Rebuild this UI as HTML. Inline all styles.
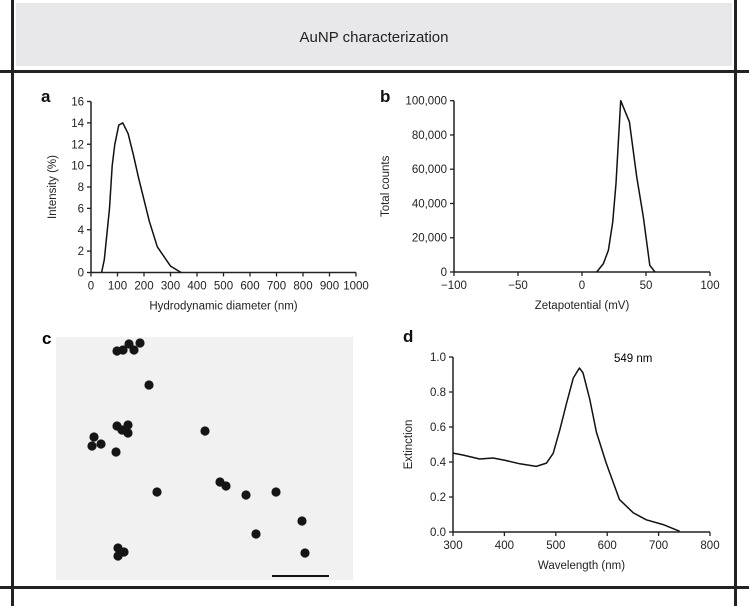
<!DOCTYPE html>
<html><head><meta charset="utf-8"><style>
html,body{margin:0;padding:0;background:#fff;}
svg{display:block;font-family:"Liberation Sans",Arial,sans-serif;}
</style></head><body>
<svg id="fig" width="749" height="606" viewBox="0 0 749 606" xmlns="http://www.w3.org/2000/svg">
<rect x="16" y="3" width="716" height="63" fill="#e8e8ea"/>
<text x="374" y="42" font-size="15" text-anchor="middle" fill="#222">AuNP characterization</text>
<rect x="11" y="0" width="3" height="606" fill="#222"/>
<rect x="734" y="0" width="3" height="606" fill="#222"/>
<rect x="0" y="70" width="749" height="3" fill="#222"/>
<rect x="0" y="586" width="749" height="3" fill="#222"/>
<g id="pa"></g>
<g id="pb"></g>
<g id="pc">
<text x="42" y="344" font-size="17" font-weight="bold">c</text>
<rect x="56" y="337" width="297" height="243" fill="#f1f1f1"/>
<rect x="272" y="575" width="57" height="2" fill="#111"/>
</g>
<g id="pd">
<text x="614" y="362" font-size="11.5">549 nm</text>
</g>
</svg>
<script>
// Panel a data
const aX=[40,50,70,80,90,105,120,140,160,180,200,220,250,300,340];
const aY=[0,1.2,6,10,12,13.8,14,13,11,8.8,6.8,4.8,2.4,0.6,0];
const aXTicks=[0,100,200,300,400,500,600,700,800,900,1000];
const aYTicks=[0,2,4,6,8,10,12,14,16];
// Panel b data
const bX=[11.5,16.7,20.6,24,26.6,30.2,37,42.7,47.9,53,57];
const bY=[0,4900,12700,29000,51700,100000,87700,55600,32200,3900,0];
const bXTicks=[-100,-50,0,50,100];
const bYTicks=[0,20000,40000,60000,80000,100000];
// Panel d data
const dX=[300,319,352,378,404,430,462,482,495,508,521,534,546,553,566,579,598,624,651,676,709,741];
const dY=[0.451,0.44,0.417,0.423,0.408,0.39,0.375,0.394,0.45,0.585,0.737,0.88,0.937,0.91,0.76,0.571,0.394,0.185,0.109,0.07,0.042,0.004];
const dXTicks=[300,400,500,600,700,800];
const dYTicks=[0,0.2,0.4,0.6,0.8,1.0];
// Panel c particles (TEM)
const partX=[117,123,129,134,140,149,117,122,128,128,94,101,92,116,205,157,220,226,246,276,302,256,305,118,124,118];
const partY=[351,350,344,350,343,385,426,430,425,433,437,444,446,452,431,492,482,486,495,492,521,534,553,548,552,556];

const NS="http://www.w3.org/2000/svg";
function mk(tag,attrs,parent,txt){const e=document.createElementNS(NS,tag);for(const k in attrs)e.setAttribute(k,attrs[k]);if(txt!==undefined)e.textContent=txt;parent.appendChild(e);return e;}

function chart(g,o){
  const sx=v=>o.x0+(v-o.xmin)/(o.xmax-o.xmin)*(o.x1-o.x0);
  const sy=v=>o.y0-(v-o.ymin)/(o.ymax-o.ymin)*(o.y0-o.y1);
  const ax=mk('path',{d:`M${o.x0},${o.y1}V${o.y0}H${o.x1}`,stroke:'#222','stroke-width':1.5,fill:'none'},g);
  
  
  o.xt.forEach(t=>{
    const tk=mk('line',{x1:sx(t),x2:sx(t),y1:o.y0,y2:o.y0+4,stroke:'#222','stroke-width':1.3},g);
    
    
    const tl=mk('text',{x:sx(t),y:o.y0+17,'font-size':11.5,'text-anchor':'middle',fill:'#222'},g,o.xf(t));
    
    
  });
  o.yt.forEach(t=>{
    const tk=mk('line',{x1:o.x0-4,x2:o.x0,y1:sy(t),y2:sy(t),stroke:'#222','stroke-width':1.3},g);
    
    
    const tl=mk('text',{x:o.x0-7,y:sy(t)+4,'font-size':11.5,'text-anchor':'end',fill:'#222'},g,o.yf(t));
    
    
  });
  const xt=mk('text',{x:(o.x0+o.x1)/2,y:o.y0+37,'font-size':11.5,'text-anchor':'middle',fill:'#222'},g,o.xtitle);
  
  
  const yt=mk('text',{x:0,y:0,'font-size':11.5,'text-anchor':'middle',fill:'#222',transform:`translate(${o.ytx},${(o.y0+o.y1)/2}) rotate(-90)`},g,o.ytitle);
  
  
  const lb=mk('text',{x:o.lx,y:o.ly,'font-size':17,'font-weight':'bold',fill:'#111'},g,o.label);
  
  
  const d=o.xs.map((v,i)=>(i?'L':'M')+sx(v).toFixed(1)+','+sy(o.ys[i]).toFixed(1)).join('');
  const ln=mk('path',{d:d,stroke:'#111','stroke-width':1.5,fill:'none','stroke-linejoin':'round'},g);
  
  
}
const fmt=v=>v.toLocaleString('en-US');
chart(document.getElementById('pa'),{x0:91,x1:356,y0:272.5,y1:101.5,xmin:0,xmax:1000,ymin:0,ymax:16,xt:aXTicks,yt:aYTicks,xf:String,yf:String,xs:aX,ys:aY,xtitle:'Hydrodynamic diameter (nm)',ytitle:'Intensity (%)',ytx:56,label:'a',lx:41,ly:102});
chart(document.getElementById('pb'),{x0:454,x1:710,y0:272,y1:100.7,xmin:-100,xmax:100,ymin:0,ymax:100000,xt:bXTicks,yt:bYTicks,xf:v=>v<0?'\u2212'+(-v):String(v),yf:fmt,xs:bX,ys:bY,xtitle:'Zetapotential (mV)',ytitle:'Total counts',ytx:389,label:'b',lx:380,ly:102});
chart(document.getElementById('pd'),{x0:453,x1:710,y0:532,y1:357,xmin:300,xmax:800,ymin:0,ymax:1,xt:dXTicks,yt:dYTicks,xf:String,yf:v=>v.toFixed(1),xs:dX,ys:dY,xtitle:'Wavelength (nm)',ytitle:'Extinction',ytx:412,label:'d',lx:403,ly:342});
const pc=document.getElementById('pc');
partX.forEach((x,i)=>{
  const c=mk('circle',{cx:x,cy:partY[i],r:4.6,fill:'#151515'},pc);
  
  
});
</script>
</body></html>
